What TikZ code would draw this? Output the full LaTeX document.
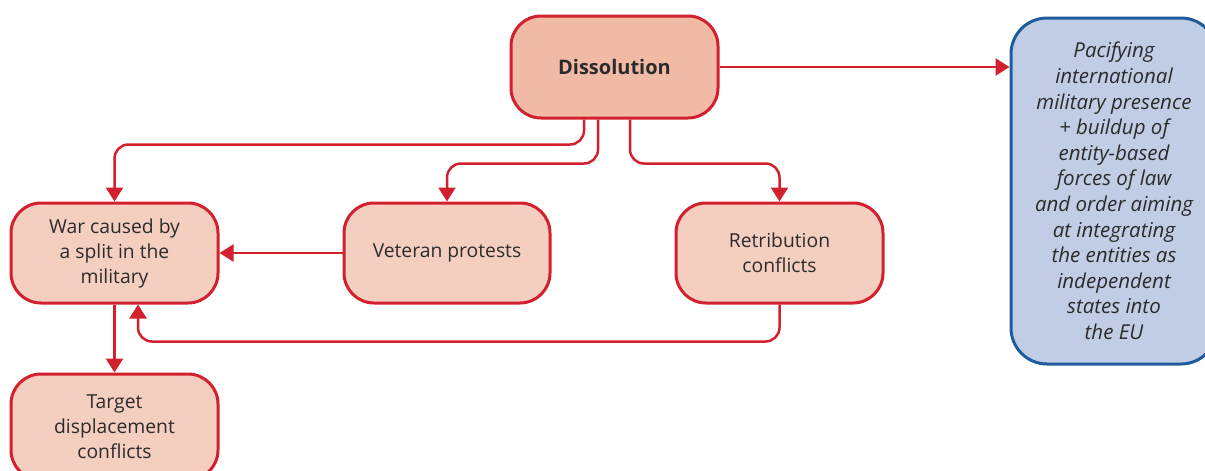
\documentclass[tikz,border=0pt]{standalone}
\usepackage{fontspec}
\setmainfont{Open Sans}
\usetikzlibrary{arrows.meta}
\definecolor{redline}{HTML}{D3202E}
\definecolor{darkfill}{HTML}{F0BAA5}
\definecolor{lightfill}{HTML}{F4CFC0}
\definecolor{bluefill}{HTML}{C1CDE5}
\definecolor{blueline}{HTML}{1F5C9E}
\definecolor{txt}{HTML}{2B2B2B}
\tikzset{
  box/.style={draw=redline, line width=3pt, rounded corners=30pt, fill=lightfill,
    text=txt, align=center, font=\fontsize{19.3}{25}\selectfont,
    minimum width=207pt, minimum height=100pt, inner sep=0pt},
  conn/.style={draw=redline, line width=2.5pt, rounded corners=14pt,
    -{Triangle[width=17pt,length=14pt]}},
}
\begin{document}
\begin{tikzpicture}[x=1pt, y=-1pt]
  \useasboundingbox (0,0) rectangle (1205,471);
  \begin{scope}
    \clip (0,0) rectangle (1205,471);
    \node[box, fill=darkfill, minimum height=102pt, font=\fontsize{20}{25}\selectfont\bfseries] (diss) at (614.5,67) {Dissolution};
    \node[box] (war) at (114.5,253) {War caused by\\a split in the\\military};
    \node[box, minimum width=206pt] (vet) at (447,253) {Veteran protests};
    \node[box] (ret) at (779.5,253) {Retribution\\conflicts};
    \node[box, minimum height=106pt] (tgt) at (114.5,427) {Target\\displacement\\conflicts};
    \node[box, draw=blueline, fill=bluefill, rounded corners=36pt,
      minimum width=206pt, minimum height=346pt,
      font=\fontsize{20.5}{25.6}\selectfont\itshape] (pac) at (1114,191)
      {Pacifying\\international\\military presence\\+ buildup of\\entity-based\\forces of law\\and order aiming\\at integrating\\the entities as\\independent\\states into\\the EU};

    \draw[conn] (diss.east) -- (diss.east -| pac.west);
    \draw[conn] ([xshift=-30.5pt]diss.south) -- ++(0,25) -| (war.north);
    \draw[conn] ([xshift=-16.5pt]diss.south) -- ++(0,44) -| (vet.north);
    \draw[conn] ([xshift=15.5pt]diss.south) -- ++(0,44) -| (ret.north);
    \draw[conn] (vet.west) -- (war.east);
    \draw[conn] (ret.south) -- ++(0,37) -| ([xshift=23.5pt]war.south);
    \draw[conn] (war.south) -- (tgt.north);
  \end{scope}
\end{tikzpicture}
\end{document}
